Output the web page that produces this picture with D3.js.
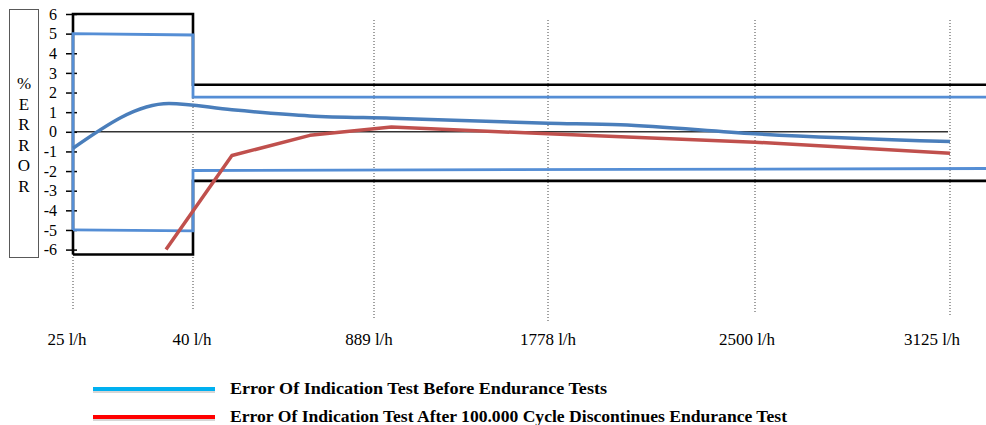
<!DOCTYPE html>
<html>
<head>
<meta charset="utf-8">
<script src="https://cdn.jsdelivr.net/npm/d3@7"></script>
<style>
    body { margin: 0; background: #fff; }
    svg { display: block; }
    text { font-family: "Liberation Serif", "Times New Roman", serif; fill: #000; }
</style>
</head>
<body>
<svg id="chart" width="986" height="425"></svg>
<script>
// flow rate categories on the x axis
const flowLabels = ["25 l/h", "40 l/h", "889 l/h", "1778 l/h", "2500 l/h", "3125 l/h"];
const yTickValues = [6, 5, 4, 3, 2, 1, 0, -1, -2, -3, -4, -5, -6];
const axisLetters = ["%", "E", "R", "R", "O", "R"];

// x values are in category units (0 = 25 l/h ... 5 = 3125 l/h)
const beforeX = [0, 0.80, 1.215, 1.646, 2.10, 3, 3.35, 4, 5];
const beforeY = [-0.84, 1.44, 1.12, 0.81, 0.69, 0.44, 0.36, -0.10, -0.50];
const afterX = [0.775, 1.215, 1.646, 2.10, 3, 4, 5];
const afterY = [-6.0, -1.21, -0.18, 0.24, -0.10, -0.53, -1.09];

// maximum permissible error (black) and band before endurance (blue)
const mpeUpperX = [0, 0, 1, 1, 5.2];
const mpeUpperY = [-6.25, 6, 6, 2.4, 2.4];
const mpeLowerX = [0, 1, 1, 5.2];
const mpeLowerY = [-6.25, -6.25, -2.5, -2.5];
const bandUpperX = [0, 0, 1, 1, 5.2];
const bandUpperY = [-5, 5, 4.93, 1.77, 1.77];
const bandLowerX = [0, 1, 1, 5.2];
const bandLowerY = [-5, -5.05, -1.97, -1.87];

const legendNames = [
    "Error Of Indication Test Before Endurance Tests",
    "Error Of Indication Test After 100.000 Cycle Discontinues Endurance Test"
];
const legendColors = ["#00b0f0", "#ff0000"];

// layout
const catPos = [73, 193, 374, 548, 755, 950];
const labelNudge = [-6, -1, -5, 0, -8, -18];
const gridBottom = [310, 311, 320, 323, 313, 316];
const legendWidths = [377, 557];

let svg = d3.select("#chart");

let x = d3.scaleLinear().domain(d3.range(flowLabels.length)).range(catPos);
let y = d3.scaleLinear().domain([-6, 6]).range([249.6, 14]);

let zip = (xs, ys) => xs.map((v, i) => [v, ys[i]]);
let line = d3.line().x(d => x(d[0])).y(d => y(d[1]));

// dotted category grid lines
svg.append("g").selectAll("line")
    .data(flowLabels)
    .enter().append("line")
    .attr("x1", (d, i) => x(i)).attr("x2", (d, i) => x(i))
    .attr("y1", 20).attr("y2", (d, i) => gridBottom[i])
    .attr("stroke", "#444")
    .attr("stroke-width", 1)
    .attr("stroke-dasharray", "1,2");

// zero line
svg.append("line")
    .attr("x1", x(0)).attr("x2", x(4.99))
    .attr("y1", y(0)).attr("y2", y(0))
    .attr("stroke", "#333")
    .attr("stroke-width", 1.5);

// black limits
[[mpeUpperX, mpeUpperY], [mpeLowerX, mpeLowerY]].forEach(function (s) {
    svg.append("path")
        .attr("d", line(zip(s[0], s[1])))
        .attr("fill", "none")
        .attr("stroke", "#000")
        .attr("stroke-width", 2.6);
});

// y axis with crossing ticks
let yAxisG = svg.append("g")
    .attr("transform", "translate(" + x(0) + ",0)")
    .call(d3.axisLeft(y).tickValues(yTickValues).tickFormat(d => String(d))
        .tickSizeInner(7).tickSizeOuter(0).tickPadding(9));
yAxisG.select(".domain").remove();
yAxisG.selectAll(".tick line").attr("x1", 4).attr("stroke", "#000").attr("stroke-width", 1.5);
yAxisG.selectAll(".tick text")
    .style("font-family", "'Liberation Serif', 'Times New Roman', serif")
    .style("font-size", "16px")
    .attr("fill", "#000");

// blue band limits
[[bandUpperX, bandUpperY], [bandLowerX, bandLowerY]].forEach(function (s) {
    svg.append("path")
        .attr("d", line(zip(s[0], s[1])))
        .attr("fill", "none")
        .attr("stroke", "#558ed5")
        .attr("stroke-width", 2.8);
});

// measured error curves
svg.append("path")
    .attr("d", line(zip(afterX, afterY)))
    .attr("fill", "none")
    .attr("stroke", "#c0504d")
    .attr("stroke-width", 3.5)
    .attr("stroke-linejoin", "round");

svg.append("path")
    .attr("d", line.curve(d3.curveMonotoneX)(zip(beforeX, beforeY)))
    .attr("fill", "none")
    .attr("stroke", "#4a7ebb")
    .attr("stroke-width", 3.5);

// x labels
svg.append("g").selectAll("text")
    .data(flowLabels)
    .enter().append("text")
    .attr("x", (d, i) => x(i) + labelNudge[i])
    .attr("y", 345)
    .attr("text-anchor", "middle")
    .style("font-size", "17px")
    .text(d => d);

// y axis title box
svg.append("rect")
    .attr("x", 9.5).attr("y", 9.5)
    .attr("width", 29).attr("height", 248)
    .attr("fill", "none")
    .attr("stroke", "#595959")
    .attr("stroke-width", 1);

svg.append("g").selectAll("text")
    .data(axisLetters)
    .enter().append("text")
    .attr("x", 24)
    .attr("y", (d, i) => 89 + i * 20.6)
    .attr("text-anchor", "middle")
    .style("font-size", "17px")
    .text(d => d);

// legend
let legend = svg.append("g");
legendNames.forEach(function (name, i) {
    let ly = 389 + i * 28;
    legend.append("line")
        .attr("x1", 93).attr("x2", 215)
        .attr("y1", ly + 2).attr("y2", ly + 2)
        .attr("stroke", "#bbb").attr("stroke-width", 4).attr("opacity", 0.6);
    legend.append("line")
        .attr("x1", 93).attr("x2", 215)
        .attr("y1", ly).attr("y2", ly)
        .attr("stroke", legendColors[i]).attr("stroke-width", 4);
    legend.append("text")
        .attr("x", 230)
        .attr("y", ly + 5)
        .attr("textLength", legendWidths[i])
        .attr("lengthAdjust", "spacingAndGlyphs")
        .style("font-size", "16px")
        .style("font-weight", "bold")
        .text(name);
});
</script>
</body>
</html>
